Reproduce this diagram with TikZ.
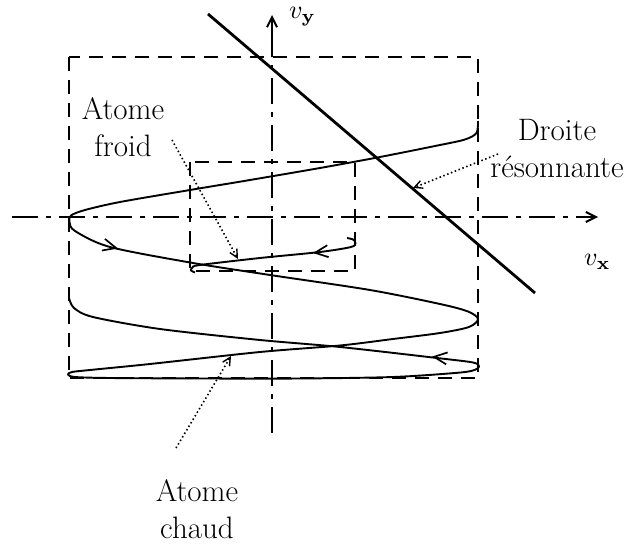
\documentclass[tikz,border=0pt]{standalone}
\usepackage{graphicx}
\usetikzlibrary{arrows.meta}
\begin{document}
\begin{tikzpicture}[x=1pt,y=-1pt,
  rect/.style={line width=1.6pt, dash pattern=on 14pt off 9pt},
  axis/.style={line width=2pt, dash pattern=on 26pt off 8pt on 5pt off 8pt},
  axtip/.style={line width=2pt, -{Straight Barb[length=10pt,width=10pt,line width=2pt]}},
  traj/.style={line width=1.9pt, line join=round},
  reso/.style={line width=2.8pt},
  pointer/.style={line width=1.6pt, dash pattern=on 1.5pt off 2.6pt,
    -{Straight Barb[length=8pt,width=8pt,line width=1.4pt]}},
  midarrow/.style={line width=1.7pt, -{Straight Barb[length=13pt,width=12pt]}},
  lbl/.style={font=\fontsize{31}{37}\selectfont, inner sep=0pt, align=center},
  mlbl/.style={inner sep=0pt}
]
\useasboundingbox (0,0) rectangle (632,545);

% dashed boxes
\draw[rect] (69,57) rectangle (478,378);
\draw[rect] (190,162) rectangle (355,271);

% axes
\coordinate (xs) at (12,217);
\coordinate (xe) at (598,217);
\coordinate (ys) at (272,433);
\coordinate (ym) at (272,57);
\coordinate (ye) at (272,15);
\draw[axis, axtip] (xs) -- (xe);
\draw[axis] (ys) -- (ym);
\draw[axtip] (ym) -- (ye);

% resonant line
\draw[reso] (208,14) -- (535,293);

% hot atom trajectory
\draw[traj] plot[smooth, tension=0.5] coordinates {
  (478,121) (476.5,133) (465,139.5) (440,145) (380,157) (320,168)
  (250,180) (190,190) (120,202) (85,210) (71,215.5) (69.5,222) (75,231)
  (110,247) (193,263) (270,275) (370,290) (440,304) (468,311.5)
  (478,319) (469,327) (440,333) (393,339) (340,345.5) (260,352)
  (150,364) (90,370) (72,372) (68,374.5) (75,377) (110,378) (200,378.5)
  (300,378.5) (393,377) (455,373) (473,370.5) (479,366.5) (473,362.5)
  (437,358) (340,347) (260,340) (160,329) (93,317) (74,308) (69,298)};

% cold atom trajectory
\draw[traj] plot[smooth, tension=0.5] coordinates {
  (347,238) (353,239.5) (355.5,243) (351,247) (320,252) (260,258)
  (200,265) (192.5,267.5) (191,270.5) (195,272.5)};

% direction marks
\draw[midarrow] (113,247.2) -- (118,248.5);
\draw[midarrow] (437,357.2) -- (432,356.6);
\draw[midarrow] (318,252.4) -- (313,253);

% pointer ends
\coordinate (fA) at (172,140);
\coordinate (fB) at (238,259);
\coordinate (rA) at (498,154);
\coordinate (rB) at (413,188);
\coordinate (cA) at (176,448);
\coordinate (cB) at (231,356);

\draw[pointer] (fA) -- (fB);
\draw[pointer] (rA) -- (rB);
\draw[pointer] (cA) -- (cB);

% labels
\node[lbl, anchor=north] (froid) at (123,97) {Atome\\froid};
\node[lbl, anchor=north] (droite) at (557,119) {Droite\\résonnante};
\node[lbl, anchor=north] (chaud) at (197,479) {Atome\\chaud};
\node[mlbl, anchor=base west] (vy) at (289,19) {\scalebox{2.6}{$v_{\mathbf{y}}$}};
\node[mlbl, anchor=base west] (vx) at (584,266) {\scalebox{2.6}{$v_{\mathbf{x}}$}};
\end{tikzpicture}
\end{document}
